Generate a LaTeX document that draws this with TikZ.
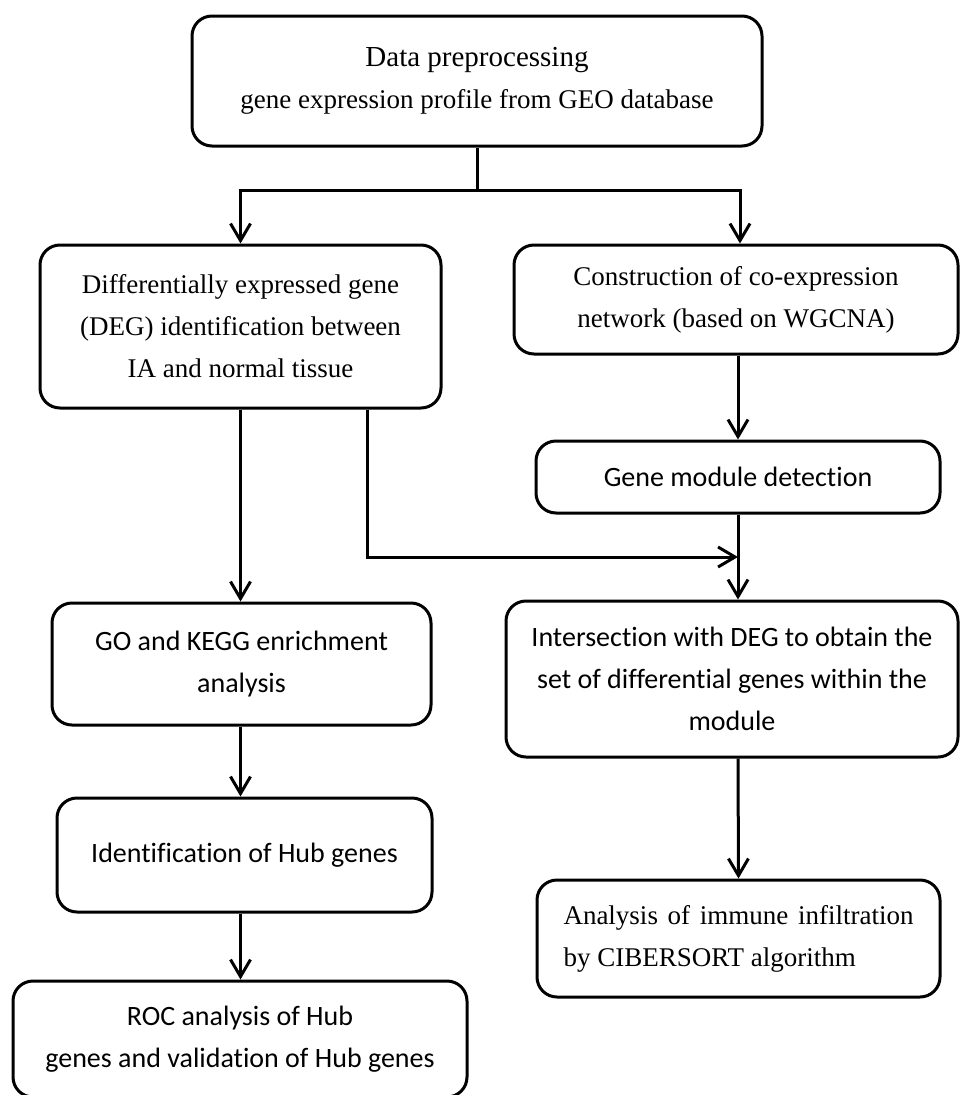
\documentclass[tikz,border=0pt]{standalone}
\usepackage{fontspec}
\setmainfont{Liberation Serif}
\newfontfamily\calibri[Ligatures=NoCommon]{Carlito}
\usepackage{tikz}
\usetikzlibrary{arrows.meta,positioning}
\tikzset{
  flowbox/.style={draw=black,line width=3pt,rounded corners=20pt,align=center,inner sep=0pt},
  sbox/.style={flowbox,font=\fontsize{27}{42}\selectfont},
  cbox/.style={flowbox,font=\calibri\fontsize{28}{42}\selectfont},
  ln/.style={line width=3pt},
  arr/.style={ln,-{Straight Barb[length=17pt,width=20pt]}},
}

\begin{document}
\begin{tikzpicture}[x=1pt,y=-1pt]
  \useasboundingbox[fill=white] (0,0) rectangle (959,1095);
  \node[sbox,minimum width=570pt,minimum height=130pt] (pre) at (477,81)
    {{\fontsize{29}{42}\selectfont Data preprocessing}\\gene expression profile from GEO database};
  \node[sbox,minimum width=401pt,minimum height=163pt] (deg) at (240.5,326.5)
    {Differentially expressed gene\\(DEG) identification between\\IA and normal tissue};
  \node[sbox,minimum width=444pt,minimum height=109pt] (coexp) at (736,299.5)
    {Construction of co-expression\\network (based on WGCNA)};
  \node[cbox,minimum width=404pt,minimum height=72pt] (gmd) at (738,477)
    {Gene module detection};
  \node[cbox,minimum width=379pt,minimum height=122pt] (go) at (241.5,664)
    {GO and KEGG enrichment\\analysis};
  \node[cbox,minimum width=452pt,minimum height=156pt] (inter) at (732,679)
    {Intersection with DEG to obtain the\\set of differential genes within the\\module};
  \node[cbox,minimum width=375pt,minimum height=114pt] (hub) at (244.5,855)
    {Identification of Hub genes};
  \node[sbox,minimum width=403pt,minimum height=117pt,align=left] (immune) at (738.5,938.5)
    {\makebox[350pt][s]{Analysis of immune infiltration}\\by CIBERSORT algorithm};
  \node[cbox,minimum width=454pt,minimum height=116pt] (roc) at (240,1039)
    {ROC analysis of Hub\\genes and validation of Hub genes};

  \coordinate (split) at (477,190);
  \coordinate (join) at (738,557);
  \draw[ln] (pre.south) -- (split);
  \draw[arr] (split) -| (deg.north);
  \draw[arr] (split) -| ([xshift=4pt]coexp.north);
  \draw[arr] (coexp.south -| gmd.south) -- (gmd.north);
  \draw[arr] (gmd.south) -- (gmd.south |- inter.north);
  \draw[arr] ([xshift=126.5pt]deg.south) |- (join);
  \draw[arr] (inter.south -| gmd.south) -- (immune.north);
  \draw[arr] (deg.south) -- (deg.south |- go.north);
  \draw[arr] (deg.south |- go.south) -- (deg.south |- hub.north);
  \draw[arr] (deg.south |- hub.south) -- (deg.south |- roc.north);
\end{tikzpicture}
\end{document}
